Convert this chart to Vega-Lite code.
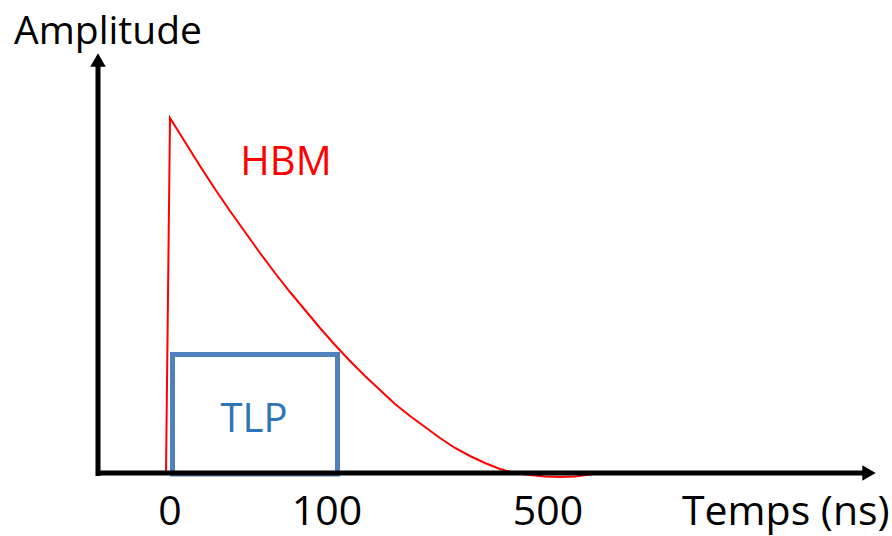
{
  "$schema": "https://vega.github.io/schema/vega-lite/v6.json",
  "width": 892,
  "height": 536,
  "autosize": {"type": "fit", "contains": "padding"},
  "padding": 0,
  "background": "white",
  "config": {"view": {"stroke": null}},
  "datasets": {
    "hbm": [
      {"x": 166, "a": 0}, {"x": 170, "a": 355}, {"x": 185, "a": 331}, {"x": 200, "a": 307},
      {"x": 215, "a": 284}, {"x": 230, "a": 262}, {"x": 245, "a": 241}, {"x": 260, "a": 220},
      {"x": 275, "a": 200}, {"x": 290, "a": 181}, {"x": 305, "a": 163}, {"x": 320, "a": 145},
      {"x": 335, "a": 128}, {"x": 350, "a": 112}, {"x": 365, "a": 97}, {"x": 380, "a": 83},
      {"x": 395, "a": 69}, {"x": 410, "a": 57}, {"x": 425, "a": 46}, {"x": 440, "a": 35},
      {"x": 455, "a": 25}, {"x": 470, "a": 17}, {"x": 485, "a": 10}, {"x": 500, "a": 4},
      {"x": 515, "a": 0}, {"x": 530, "a": -2}, {"x": 545, "a": -3.5}, {"x": 560, "a": -4},
      {"x": 575, "a": -3.5}, {"x": 590, "a": -1.5}, {"x": 600, "a": 0}
    ],
    "tlp": [{"x": 172.5, "x2": 337.5, "a": -1, "a2": 118.5}],
    "axes": [
      {"x": 98, "a": 0, "g": "h"}, {"x": 864, "a": 0, "g": "h"},
      {"x": 98, "a": -3, "g": "v"}, {"x": 98, "a": 408, "g": "v"}
    ],
    "heads": [
      {"x": 98, "a": 413, "shape": "triangle-up"},
      {"x": 869, "a": 0, "shape": "triangle-right"}
    ],
    "labels": [
      {"x": 14, "a": 429, "text": "Amplitude", "kind": "left", "c": "black", "size": 39},
      {"x": 682, "a": -52, "text": "Temps (ns)", "kind": "left", "c": "black", "size": 41},
      {"x": 170, "a": -52, "text": "0", "kind": "center", "c": "black", "size": 41},
      {"x": 327, "a": -52, "text": "100", "kind": "center", "c": "black", "size": 41},
      {"x": 548, "a": -52, "text": "500", "kind": "center", "c": "black", "size": 41},
      {"x": 286, "a": 298, "text": "HBM", "kind": "center", "c": "red", "size": 40},
      {"x": 254, "a": 41, "text": "TLP", "kind": "center", "c": "blue", "size": 40}
    ]
  },
  "encoding": {
    "x": {"field": "x", "type": "quantitative", "scale": {"domain": [0, 892], "nice": false, "zero": false}, "axis": null},
    "y": {"field": "a", "type": "quantitative", "scale": {"domain": [-63, 473], "nice": false, "zero": false}, "axis": null}
  },
  "layer": [
    {
      "data": {"name": "tlp"},
      "mark": {"type": "rect", "fill": null, "fillOpacity": 0, "stroke": "#4f81bd", "strokeWidth": 5},
      "encoding": {"x2": {"field": "x2"}, "y2": {"field": "a2"}}
    },
    {
      "data": {"name": "hbm"},
      "mark": {"type": "line", "color": "#ff0000", "strokeWidth": 2},
      "encoding": {}
    },
    {
      "data": {"name": "axes"},
      "mark": {"type": "line", "color": "black", "strokeWidth": 5},
      "encoding": {"detail": {"field": "g"}}
    },
    {
      "data": {"name": "heads"},
      "mark": {"type": "point", "filled": true, "color": "black", "opacity": 1},
      "encoding": {
        "shape": {"field": "shape", "type": "nominal", "scale": null},
        "size": {"value": 240}
      }
    },
    {
      "data": {"name": "labels"},
      "transform": [{"filter": "datum.kind == 'left'"}],
      "mark": {"type": "text", "align": "left", "baseline": "alphabetic", "font": "Open Sans"},
      "encoding": {
        "text": {"field": "text"},
        "color": {"field": "c", "type": "nominal", "scale": {"domain": ["black", "red", "blue"], "range": ["#000000", "#ff0000", "#2e75b6"]}, "legend": null},
        "size": {"field": "size", "type": "quantitative", "scale": null}
      }
    },
    {
      "data": {"name": "labels"},
      "transform": [{"filter": "datum.kind == 'center'"}],
      "mark": {"type": "text", "align": "center", "baseline": "alphabetic", "font": "Open Sans"},
      "encoding": {
        "text": {"field": "text"},
        "color": {"field": "c", "type": "nominal", "scale": {"domain": ["black", "red", "blue"], "range": ["#000000", "#ff0000", "#2e75b6"]}, "legend": null},
        "size": {"field": "size", "type": "quantitative", "scale": null}
      }
    }
  ]
}
